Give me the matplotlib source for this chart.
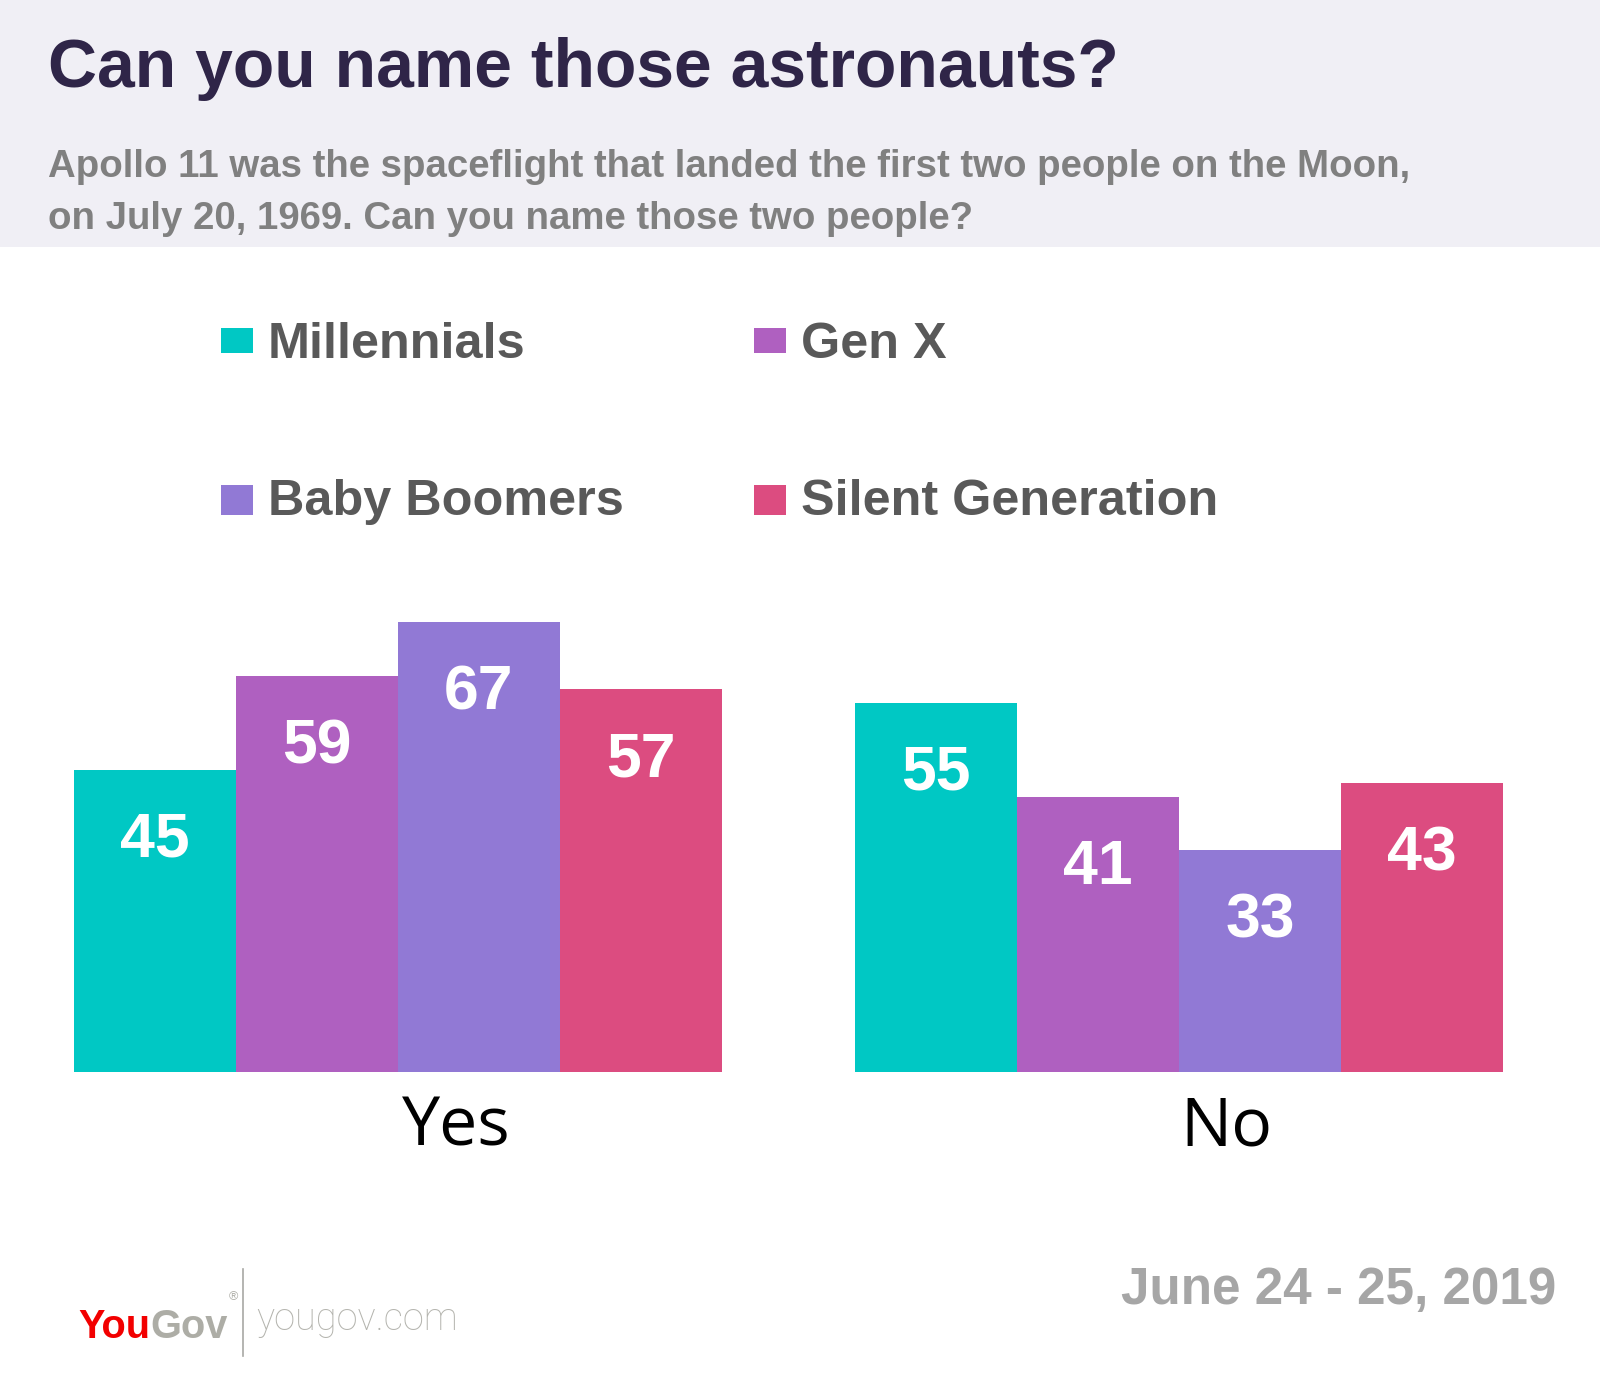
import matplotlib
matplotlib.use("Agg")
import matplotlib.pyplot as plt
from matplotlib import font_manager as fm
from matplotlib.patches import Rectangle
from matplotlib.lines import Line2D
import numpy as np

# ---------------- data ----------------
groups = ["Yes", "No"]
generations = ["Millennials", "Gen X", "Baby Boomers", "Silent Generation"]
millennials = [45, 55]
gen_x = [59, 41]
baby_boomers = [67, 33]
silent_generation = [57, 43]
series = [millennials, gen_x, baby_boomers, silent_generation]
colors = ["#00C8C4", "#AF60C0", "#9179D5", "#DC4C80"]

title = "Can you name those astronauts?"
subtitle1 = "Apollo 11 was the spaceflight that landed the first two people on the Moon,"
subtitle2 = "on July 20, 1969. Can you name those two people?"
date_text = "June 24 - 25, 2019"

# ---------------- fonts ----------------
names = {f.name for f in fm.fontManager.ttflist}
def pick(*cands):
    for c in cands:
        if c in names:
            return c
    return "DejaVu Sans"

COND = pick("Liberation Sans Narrow", "Liberation Sans", "DejaVu Sans")
REG = pick("Open Sans", "Noto Sans", "DejaVu Sans")
THIN = pick("Roboto", "Lato", "Open Sans", "DejaVu Sans")

W, H = 1600, 1374
fig = plt.figure(figsize=(W / 100, H / 100), dpi=100)
fig.patch.set_facecolor("white")
renderer = fig.canvas.get_renderer()

def fx(px):
    return px / W
def fy(py):
    return 1 - py / H

def fit(x_px, y_px, s, width_px, ha="left", size0=40, **kw):
    t = fig.text(fx(x_px), fy(y_px), s, ha=ha, va="baseline", fontsize=size0, **kw)
    w = t.get_window_extent(renderer).width
    t.set_fontsize(size0 * width_px / w)
    return t

# header band
fig.patches.append(Rectangle((0, fy(247)), 1, 247 / H, transform=fig.transFigure,
                             facecolor="#F0EFF5", edgecolor="none", zorder=0))

fit(48, 87, title, 1071, family=COND, fontweight="bold", color="#2F2548")
t1 = fit(48, 177, subtitle1, 1362, family=COND, fontweight="bold", color="#808080")
fig.text(fx(48), fy(229), subtitle2, ha="left", va="baseline",
         fontsize=t1.get_fontsize(), family=COND, fontweight="bold", color="#808080")

# ---------------- legend ----------------
leg_sq_x = [221, 754]
leg_txt_x = [268, 801]
leg_sq_y = [(328, 353), (485, 515)]
leg_base = [358, 515]
tsg = fit(leg_txt_x[1], leg_base[1], generations[3], 416, family=COND,
          fontweight="bold", color="#595959")
leg_size = tsg.get_fontsize()
tsg.remove()
for i, (name, col) in enumerate(zip(generations, colors)):
    r, c = divmod(i, 2)
    y0, y1 = leg_sq_y[r]
    fig.patches.append(Rectangle((fx(leg_sq_x[c]), fy(y1)), 32 / W, (y1 - y0) / H,
                                 transform=fig.transFigure, facecolor=col,
                                 edgecolor="none"))
    fig.text(fx(leg_txt_x[c]), fy(leg_base[r]), name, ha="left", va="baseline",
             fontsize=leg_size, family=COND, fontweight="bold", color="#595959")

# ---------------- bars ----------------
ax_h = 70 * 6.705
ax = fig.add_axes([73.5 / W, (H - 1071.5) / H, (1503 - 73.5) / W, ax_h / H])
group_x = np.array([0.0, 4.824])
offsets = np.array([-1.5, -0.5, 0.5, 1.5])
for k, (vals, col) in enumerate(zip(series, colors)):
    xs = group_x + offsets[k]
    ax.bar(xs, vals, width=1.0, color=col, edgecolor="none")
    for x, v in zip(xs, vals):
        ax.text(x, v - 13.0, str(v), ha="center", va="baseline", color="white",
                fontsize=45, family=COND, fontweight="bold")
ax.set_xlim(-2, 6.824)
ax.set_ylim(0, 70)
ax.axis("off")
label_shift = [0.36, 0.29]
for gx, g, sh in zip(group_x, groups, label_shift):
    ax.text(gx + sh, -74.5 / ax_h, g, transform=ax.get_xaxis_transform(),
            ha="center", va="baseline", fontsize=49, family=REG, color="black")

# ---------------- footer ----------------
fit(1556, 1304, date_text, 436, ha="right", family=COND, fontweight="bold",
    color="#A6A6A6")

ty = fit(78.5, 1338, "You", 72, family=COND, fontweight="bold", color="#F20000")
bb = ty.get_window_extent(renderer)
tg = fig.text(bb.x1 / W, fy(1338), "Gov", ha="left", va="baseline",
              fontsize=ty.get_fontsize(), family=COND, fontweight="bold",
              color="#ADADA6")
bg = tg.get_window_extent(renderer)
fig.text(bg.x1 / W + 1 / W, fy(1300), "\u00ae", ha="left", va="baseline",
         fontsize=9, family=COND, color="#ADADA6")
fig.add_artist(Line2D([fx(243), fx(243)], [fy(1356), fy(1269)],
                      transform=fig.transFigure, color="#A8A8A4", lw=1.2))
fit(256, 1330, "yougov.com", 202, family=THIN, fontweight="light", color="#B4B4AE")

fig.savefig("out.png", dpi=100, facecolor="white")
